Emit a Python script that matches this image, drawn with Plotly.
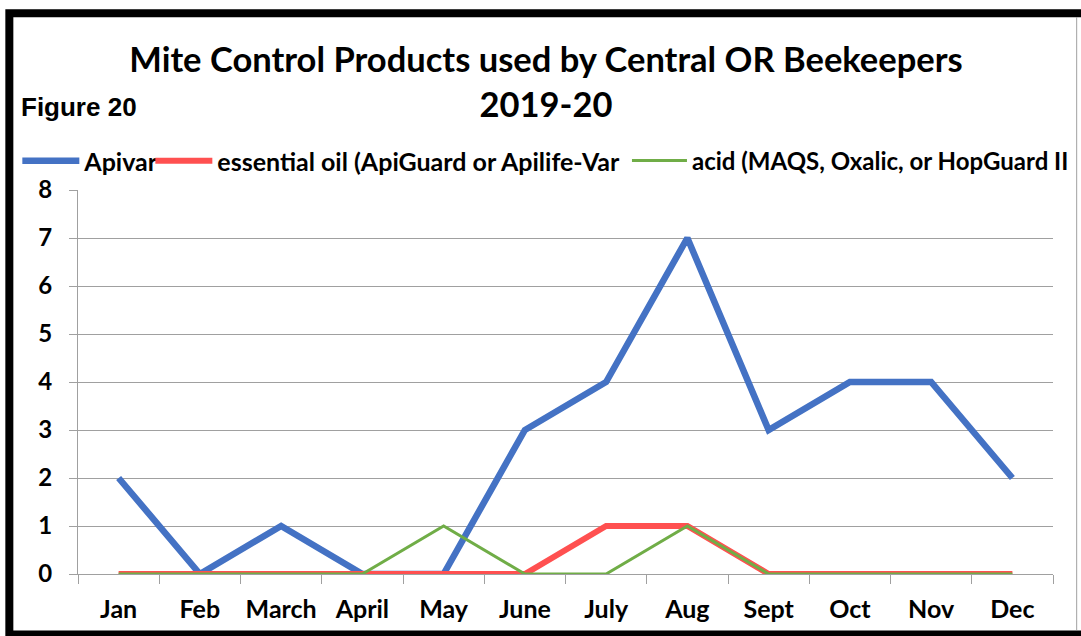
import plotly.graph_objects as go

months = ["Jan", "Feb", "March", "April", "May", "June", "July", "Aug", "Sept", "Oct", "Nov", "Dec"]
apivar = [2, 0, 1, 0, 0, 3, 4, 7, 3, 4, 4, 2]
essential_oil = [0, 0, 0, 0, 0, 0, 1, 1, 0, 0, 0, 0]
acid = [0, 0, 0, 0, 1, 0, 0, 1, 0, 0, 0, 0]
y_ticks = [0, 1, 2, 3, 4, 5, 6, 7, 8]

W, H = 1081, 636
L, R, T, B = 77.7, 1081 - 1053.3, 190, 636 - 574
PW, PH = W - L - R, H - T - B

def px(x):
    return (x - L) / PW

def py(y):
    return (H - B - y) / PH

FONT = "Lato"
fig = go.Figure()
fig.add_trace(go.Scatter(x=months, y=apivar, mode="lines", name="Apivar",
                         line=dict(color="#4472C4", width=6.5), legendwidth=61, legend="legend"))
fig.add_trace(go.Scatter(x=months, y=essential_oil, mode="lines",
                         name="essential oil (ApiGuard or Apilife-Var",
                         line=dict(color="#FF5050", width=6), legendwidth=420, legend="legend"))
fig.add_trace(go.Scatter(x=months, y=acid, mode="lines",
                         name="acid (MAQS, Oxalic, or HopGuard II",
                         line=dict(color="#70AD47", width=3), legend="legend2"))

fig.update_layout(
    width=W, height=H,
    margin=dict(l=L, r=R, t=T, b=B, autoexpand=False),
    paper_bgcolor="white", plot_bgcolor="white",
    font=dict(family=FONT, color="black"),
    title=dict(text="<b>Mite Control Products used by Central OR Beekeepers<br>2019-20</b>",
               font=dict(family=FONT, size=34.5, color="black"),
               xref="paper", x=px(546), xanchor="center",
               yref="container", y=1 - 72 / H, yanchor="top"),
    showlegend=True,
    legend=dict(orientation="h", x=px(17), xanchor="left", y=py(161), yanchor="middle",
                font=dict(family=FONT, size=25, color="black", weight="bold"),
                itemwidth=57, bgcolor="rgba(0,0,0,0)"),
    legend2=dict(orientation="h", x=px(627), xanchor="left", y=py(161), yanchor="middle",
                 font=dict(family=FONT, size=24, color="black", weight="bold"),
                 itemwidth=55, bgcolor="rgba(0,0,0,0)"),
    xaxis=dict(type="category", range=[-0.5, 11.5], showgrid=False,
               showline=True, linecolor="#A0A0A0", linewidth=1,
               ticks="outside", tickson="boundaries", ticklen=9, tickcolor="#A0A0A0",
               tickfont=dict(family=FONT, size=25, color="black", weight="bold"),
               ticklabelstandoff=13),
    yaxis=dict(range=[0, 8], tickvals=y_ticks, showgrid=True, gridcolor="#A0A0A0", gridwidth=1,
               showline=True, linecolor="#A0A0A0", linewidth=1, zeroline=False,
               ticks="outside", ticklen=8, tickcolor="#A0A0A0",
               tickfont=dict(family=FONT, size=24, color="black", weight="bold"),
               ticklabelstandoff=12),
)

fig.add_annotation(text="<b>Figure 20</b>", xref="paper", yref="paper",
                   x=px(19), y=py(107), xanchor="left", yanchor="middle", showarrow=False,
                   font=dict(family="Liberation Sans", size=26, color="black"))

# outer frame
fig.add_shape(type="rect", xref="paper", yref="paper",
              x0=px(9), x1=px(1100), y0=py(634.5), y1=py(13.3),
              line=dict(color="black", width=8), fillcolor="rgba(0,0,0,0)", layer="above")
fig.add_shape(type="line", xref="paper", yref="paper",
              x0=px(1077), x1=px(1077), y0=py(630), y1=py(17),
              line=dict(color="#A0A0A0", width=1))

fig.write_html("out.html", config={"displayModeBar": False},
               post_script="document.body.style.margin='0';")
